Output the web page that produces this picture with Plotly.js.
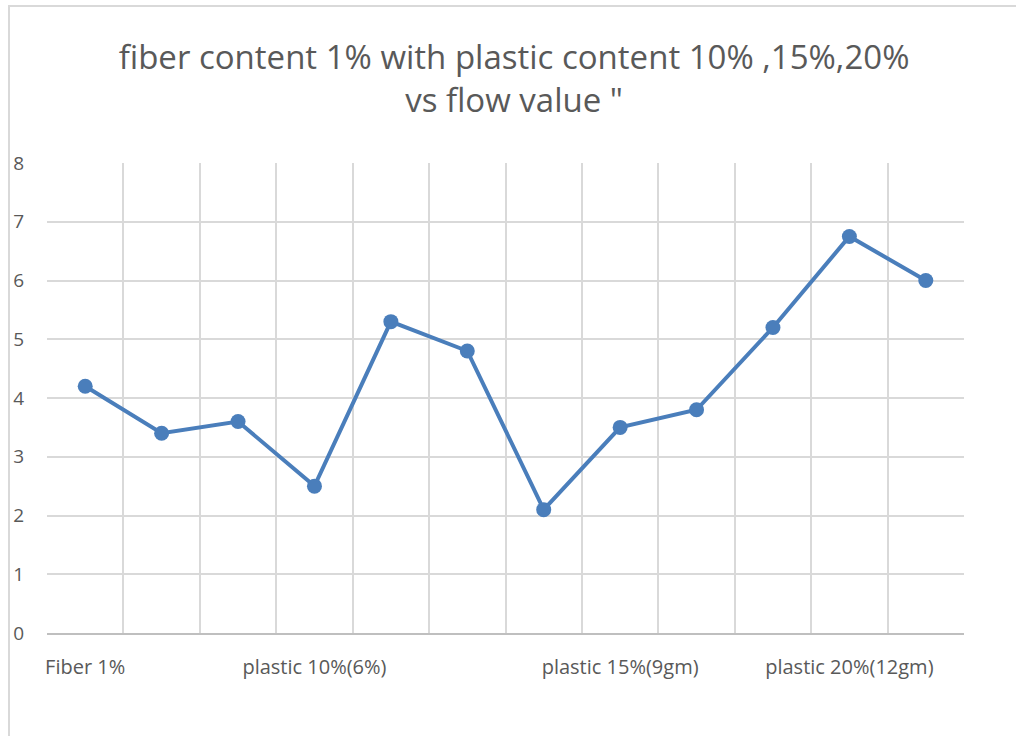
<!DOCTYPE html>
<html>
<head>
<meta charset="utf-8">
<script src="https://cdn.plot.ly/plotly-3.0.1.min.js"></script>
<style>
  html, body { margin: 0; padding: 0; background: #ffffff; }
  #frame { position: absolute; left: 8px; top: 5px; width: 1100px; height: 800px; border: 2px solid #d9d9d9; box-sizing: border-box; }
  #chart { position: absolute; left: 0; top: 0; width: 1016px; height: 736px; }
</style>
</head>
<body>
<div id="frame"></div>
<div id="chart"></div>
<script>
// Category labels (blank where the original shows no label)
const categories = ["Fiber 1%", "", "", "plastic 10%(6%)", "", "", "", "plastic 15%(9gm)", "", "", "plastic 20%(12gm)", ""];
// Flow values
const flowValues = [4.2, 3.4, 3.6, 2.5, 5.3, 4.8, 2.1, 3.5, 3.8, 5.2, 6.75, 6.0];
const yTicks = [0, 1, 2, 3, 4, 5, 6, 7, 8];

const xPos = categories.map((c, i) => i + 1);
const labelPos = xPos.filter((p, i) => categories[i] !== "");
const labelText = categories.filter(c => c !== "");

const font = "Open Sans, Liberation Sans, sans-serif";
const grey = "#595959";
const blue = "#4a7ebb";

const trace = {
  x: xPos,
  y: flowValues,
  type: "scatter",
  mode: "lines+markers",
  line: { color: blue, width: 4 },
  marker: { color: blue, size: 15 },
  hoverinfo: "y"
};

const layout = {
  width: 1016,
  height: 736,
  paper_bgcolor: "rgba(0,0,0,0)",
  plot_bgcolor: "rgba(0,0,0,0)",
  margin: { l: 47, r: 52, t: 163, b: 103 },
  showlegend: false,
  title: {
    text: "fiber content 1% with plastic content 10% ,15%,20%<br>vs flow value \"",
    font: { family: font, size: 33, color: grey },
    x: 0.506,
    xanchor: "center",
    y: 0.906,
    yanchor: "middle",
    yref: "container"
  },
  xaxis: {
    range: [0.5, xPos.length + 0.5],
    tickmode: "array",
    tickvals: labelPos,
    ticktext: labelText,
    showgrid: false,
    zeroline: false,
    showline: true,
    linecolor: "#bfbfbf",
    linewidth: 2,
    ticks: "",
    ticklabelstandoff: 15,
    tickfont: { family: font, size: 20, color: grey },
    minor: {
      tickmode: "linear",
      tick0: 0.5,
      dtick: 1,
      showgrid: true,
      gridcolor: "#d9d9d9",
      gridwidth: 2,
      ticks: ""
    },
    fixedrange: true
  },
  yaxis: {
    range: [0, 8],
    tickmode: "array",
    tickvals: yTicks,
    showgrid: true,
    gridcolor: "#d9d9d9",
    gridwidth: 2,
    zeroline: false,
    showline: false,
    ticks: "",
    ticklabelstandoff: 22,
    tickfont: { family: font, size: 19, color: grey },
    fixedrange: true
  }
};

Plotly.newPlot("chart", [trace], layout, { displayModeBar: false, staticPlot: true });
</script>
</body>
</html>
